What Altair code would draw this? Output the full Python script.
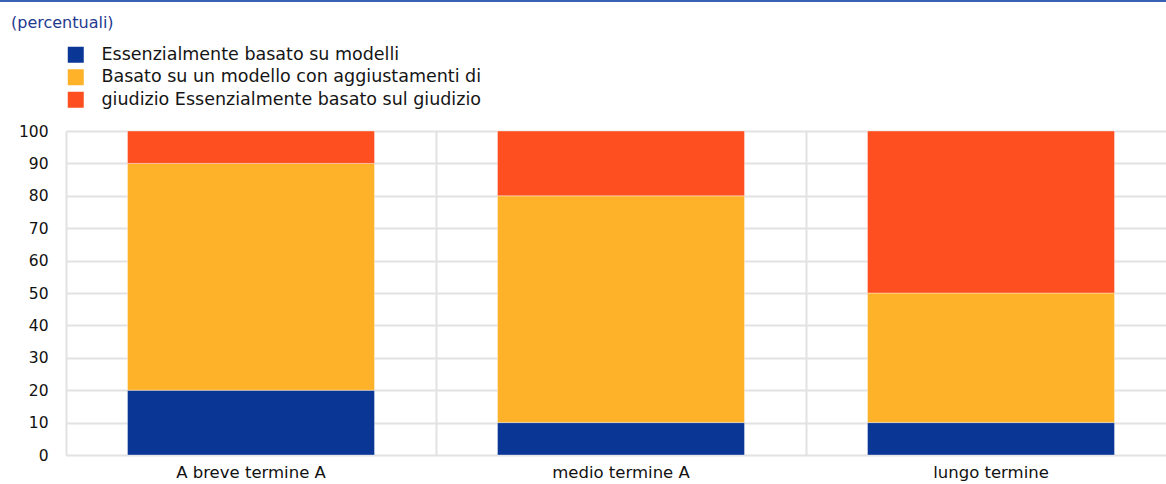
import altair as alt
import pandas as pd

title_text = ["(percentuali)"]
categories = ["A breve termine A", "medio termine A", "lungo termine"]
series = [
    "Essenzialmente basato su modelli",
    "Basato su un modello con aggiustamenti di",
    "giudizio Essenzialmente basato sul giudizio",
]
colors = ["#0a3696", "#feb22a", "#fe4f20"]
values = {
    series[0]: [20, 10, 10],
    series[1]: [70, 70, 40],
    series[2]: [10, 20, 50],
}

rows = []
for si, s in enumerate(series):
    for ci, c in enumerate(categories):
        rows.append({"cat": c, "serie": s, "val": values[s][ci], "ord": si})
df = pd.DataFrame(rows)

FONT = "DejaVu Sans"

bars = alt.Chart(df).mark_bar(size=247, stroke="#ffffff", strokeWidth=0.6, strokeOpacity=0.6).encode(
    x=alt.X("cat:N", sort=categories, title=None,
            scale=alt.Scale(range=[0, 1110], paddingInner=0, paddingOuter=0),
            axis=alt.Axis(labelAngle=0, labelFontSize=16.5, labelColor="#111111", labelFont=FONT,
                          labelPadding=9, ticks=False, domain=False, grid=True, bandPosition=0,
                          gridColor="#e2e2e2", gridWidth=2)),
    y=alt.Y("val:Q", stack="zero", title=None,
            scale=alt.Scale(domain=[0, 100], nice=False),
            axis=alt.Axis(values=list(range(0, 101, 10)), labelFontSize=15.5, labelColor="#111111",
                          labelFont=FONT, labelPadding=18, ticks=False, domain=False,
                          gridColor="#e2e2e2", gridWidth=2)),
    color=alt.Color("serie:N", sort=series,
                    scale=alt.Scale(domain=series, range=colors),
                    legend=alt.Legend(title=None, orient="none", legendX=1, legendY=-85,
                                      symbolType="square", symbolSize=256, symbolStrokeWidth=0,
                                      symbolOpacity=1, labelFontSize=17.5, labelFont=FONT,
                                      labelColor="#151515", labelOffset=17, rowPadding=3.5,
                                      labelLimit=600)),
    order=alt.Order("ord:Q", sort="ascending"),
)

topline = alt.Chart(pd.DataFrame({"a": [0]})).mark_rule(color="#3a62b4", strokeWidth=2).encode(
    x=alt.value(-66), x2=alt.value(1100), y=alt.value(-130)
)

title = alt.Chart(pd.DataFrame({"t": title_text})).mark_text(
    align="left", baseline="middle", font=FONT, fontSize=16, color="#1f3a8f"
).encode(x=alt.value(-55), y=alt.value(-108), text="t:N")

chart = alt.layer(bars, topline, title).properties(
    width=1100,
    height=324,
    autosize=alt.AutoSizeParams(type="none"),
    padding={"left": 66, "top": 131, "right": 0, "bottom": 29},
).configure_view(stroke=None).configure(background="white")

chart.save("out.html", embed_options={"renderer": "svg", "actions": False})
